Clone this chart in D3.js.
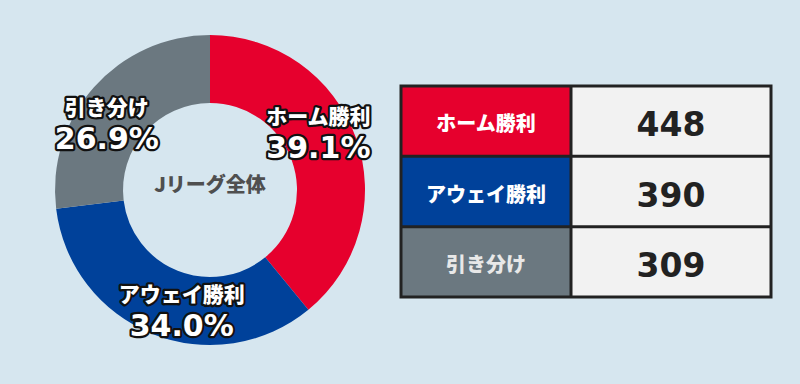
<!DOCTYPE html>
<html>
<head>
<meta charset="utf-8">
<script src="https://cdn.jsdelivr.net/npm/d3@7"></script>
<style>
  html, body { margin: 0; padding: 0; background: #d6e6ef; }
  svg { display: block; }
</style>
</head>
<body>
<div id="chart"></div>
<script>
// 試合結果（Jリーグ全体）
var results = ["ホーム勝利", "アウェイ勝利", "引き分け"]
var counts = [448, 390, 309]
var colors = ["#e6002d", "#00419a", "#6b7880"]
var centerLabel = "Jリーグ全体"

var W = 800, H = 384
var svg = d3.select("#chart").append("svg")
  .attr("width", W).attr("height", H)

svg.append("rect").attr("width", W).attr("height", H).attr("fill", "#d6e6ef")

var jp = "'Noto Sans CJK JP', sans-serif"
var num = "'DejaVu Sans', sans-serif"

// ドーナツ
var cx = 210, cy = 190
var pie = d3.pie().sort(null).value(function(d){ return d })
var arcs = pie(counts)
var total = d3.sum(counts)
var arc = d3.arc().innerRadius(87).outerRadius(155)

var donut = svg.append("g").attr("transform", "translate(" + cx + "," + cy + ")")
donut.selectAll("path").data(arcs).enter().append("path")
  .attr("d", arc)
  .attr("fill", function(d,i){ return colors[i] })

donut.append("text")
  .attr("x", 0).attr("y", 2)
  .attr("text-anchor", "middle")
  .style("font-family", jp).style("font-weight", "900").style("font-size", "20px")
  .attr("fill", "#4f4f4f")
  .text(centerLabel)

// ラベル（少し反時計回りにずらす）
var shift = -8.5 * Math.PI / 180
var labR = 123
var lab = donut.selectAll("g.lab").data(arcs).enter().append("g")
  .attr("class", "lab")
  .attr("transform", function(d){
    var a = (d.startAngle + d.endAngle) / 2 + shift
    return "translate(" + (Math.sin(a) * labR) + "," + (-Math.cos(a) * labR) + ")"
  })

function outlined(sel){
  sel.attr("text-anchor", "middle")
    .attr("fill", "#fff")
    .attr("stroke", "#111")
    .attr("stroke-width", 4.5)
    .attr("stroke-linejoin", "round")
    .attr("paint-order", "stroke")
}

lab.append("text").call(outlined)
  .attr("y", -7.5)
  .style("font-family", jp).style("font-weight", "900").style("font-size", "21px")
  .text(function(d,i){ return results[i] })

lab.append("text").call(outlined)
  .attr("y", 26.5)
  .style("font-family", num).style("font-weight", "bold").style("font-size", "30px")
  .text(function(d){ return (d.value / total * 100).toFixed(1) + "%" })

// 表
var tx0 = 401, tx1 = 771, tcol = 571
var rowY = d3.scaleBand().domain(results).range([86, 297])
var table = svg.append("g")

var row = table.selectAll("g").data(results).enter().append("g")

row.append("rect")
  .attr("x", tx0).attr("y", function(d){ return rowY(d) })
  .attr("width", tcol - tx0).attr("height", rowY.bandwidth())
  .attr("fill", function(d,i){ return colors[i] })

row.append("rect")
  .attr("x", tcol).attr("y", function(d){ return rowY(d) })
  .attr("width", tx1 - tcol).attr("height", rowY.bandwidth())
  .attr("fill", "#f2f2f2")

row.append("text")
  .attr("x", (tx0 + tcol) / 2)
  .attr("y", function(d){ return rowY(d) + rowY.bandwidth() / 2 + 10 })
  .attr("text-anchor", "middle")
  .attr("fill", function(d,i){ return i == 2 ? "#e8e8e8" : "#fff" })
  .style("font-family", jp).style("font-weight", "900").style("font-size", "20px")
  .text(function(d){ return d })

row.append("text")
  .attr("x", (tcol + tx1) / 2)
  .attr("y", function(d){ return rowY(d) + rowY.bandwidth() / 2 + 15 })
  .attr("text-anchor", "middle")
  .attr("fill", "#222")
  .style("font-family", num).style("font-weight", "bold").style("font-size", "33px")
  .text(function(d,i){ return counts[i] })

// 罫線
table.append("rect")
  .attr("x", tx0).attr("y", 86).attr("width", tx1 - tx0).attr("height", 297 - 86)
  .attr("fill", "none").attr("stroke", "#222").attr("stroke-width", 3)
table.append("line")
  .attr("x1", tcol).attr("x2", tcol).attr("y1", 86).attr("y2", 297)
  .attr("stroke", "#222").attr("stroke-width", 3)
table.selectAll("line.h").data(results.slice(1)).enter().append("line")
  .attr("class", "h")
  .attr("x1", tx0).attr("x2", tx1)
  .attr("y1", function(d){ return rowY(d) }).attr("y2", function(d){ return rowY(d) })
  .attr("stroke", "#222").attr("stroke-width", 3)
</script>
</body>
</html>
